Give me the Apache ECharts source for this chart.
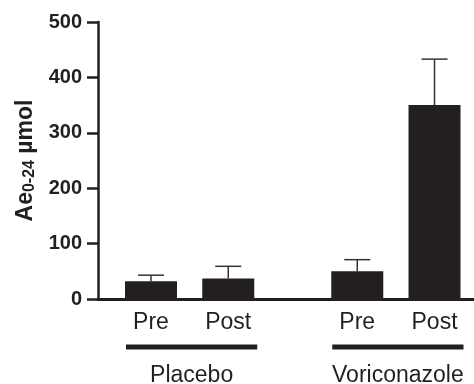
<!DOCTYPE html>
<html>
<head>
<meta charset="utf-8">
<script src="https://cdn.jsdelivr.net/npm/echarts@6.0.0/dist/echarts.min.js"></script>
<style>
  html, body { margin: 0; padding: 0; background: #fff; }
  #chart { width: 474px; height: 384px; }
</style>
</head>
<body>
<div id="chart"></div>
<script>
// 数据
const groups = ['Placebo', 'Voriconazole']
const phases = ['Pre', 'Post']
const placeboMean = [32, 37]
const placeboSD = [11, 22]
const voriMean = [50, 350]
const voriSD = [21, 83]
const yTicks = [0, 100, 200, 300, 400, 500]

const means = [placeboMean, voriMean]
const sds = [placeboSD, voriSD]
const groupStep = 2.67 // 组间距 (x轴单位)
const ink = '#231f20'

// 生成柱子 / 误差线数据
const barData = []
const errData = []
groups.forEach(function (g, gi) {
  phases.forEach(function (p, pi) {
    const x = gi * groupStep + pi
    barData.push({ value: [x, means[gi][pi]], phase: p })
    errData.push([x, means[gi][pi], sds[gi][pi]])
  })
})
const groupData = groups.map(function (g, gi) {
  return [gi * groupStep, gi * groupStep + phases.length - 1]
})

const myChart = echarts.init(document.getElementById('chart'))
myChart.setOption({
  backgroundColor: '#fff',
  animation: false,
  grid: { left: 98, right: 0, top: 22, bottom: 85 },
  xAxis: {
    type: 'value',
    min: -0.686,
    max: 4.181,
    axisLine: { show: true, onZero: true, lineStyle: { color: ink, width: 3 } },
    axisTick: { show: false },
    axisLabel: { show: false },
    splitLine: { show: false }
  },
  yAxis: {
    type: 'value',
    min: yTicks[0],
    max: yTicks[yTicks.length - 1],
    interval: 100,
    name: '{a|Ae}{s|0-24}{a| µmol}',
    nameLocation: 'middle',
    nameGap: 60,
    nameRotate: 90,
    nameTextStyle: {
      rich: {
        a: { fontFamily: 'Liberation Sans', fontWeight: 'bold', fontSize: 23, color: ink },
        s: { fontFamily: 'Liberation Sans', fontWeight: 'bold', fontSize: 16, color: ink, verticalAlign: 'bottom', padding: [9, 0, 0, 0] }
      }
    },
    axisLine: { show: true, onZero: false, lineStyle: { color: ink, width: 2.5 } },
    axisTick: { show: true, inside: false, length: 11, lineStyle: { color: ink, width: 2.5 } },
    axisLabel: { margin: 16, fontFamily: 'Liberation Sans', fontWeight: 'bold', fontSize: 20, color: ink },
    splitLine: { show: false }
  },
  series: [
    {
      type: 'custom',
      z: 1,
      data: errData,
      renderItem: function (params, api) {
        const base = api.coord([api.value(0), api.value(1)])
        const top = api.coord([api.value(0), api.value(1) + api.value(2)])
        const style = { stroke: '#333', lineWidth: 1.5 }
        return {
          type: 'group',
          children: [
            { type: 'line', shape: { x1: base[0], y1: base[1], x2: top[0], y2: top[1] }, style: style },
            { type: 'line', shape: { x1: top[0] - 13, y1: top[1], x2: top[0] + 13, y2: top[1] }, style: style }
          ]
        }
      }
    },
    {
      type: 'bar',
      z: 2,
      barWidth: 52,
      data: barData,
      itemStyle: { color: ink },
      label: {
        show: true,
        position: 'bottom',
        distance: 12,
        formatter: function (p) { return p.data.phase },
        fontFamily: 'Liberation Sans',
        fontSize: 23,
        color: ink
      }
    },
    {
      type: 'custom',
      z: 3,
      clip: false,
      data: groupData,
      renderItem: function (params, api) {
        const a = api.coord([api.value(0), 0])
        const b = api.coord([api.value(1), 0])
        const y = a[1] + 48
        return {
          type: 'group',
          children: [
            { type: 'line', shape: { x1: a[0] - 25, y1: y, x2: b[0] + 29, y2: y }, style: { stroke: ink, lineWidth: 5 } },
            {
              type: 'text',
              style: {
                x: (a[0] + b[0]) / 2 + 2, y: y + 29,
                text: groups[params.dataIndex],
                align: 'center', verticalAlign: 'middle',
                fontFamily: 'Liberation Sans', fontSize: 23, fill: ink
              }
            }
          ]
        }
      }
    }
  ]
})
</script>
</body>
</html>
